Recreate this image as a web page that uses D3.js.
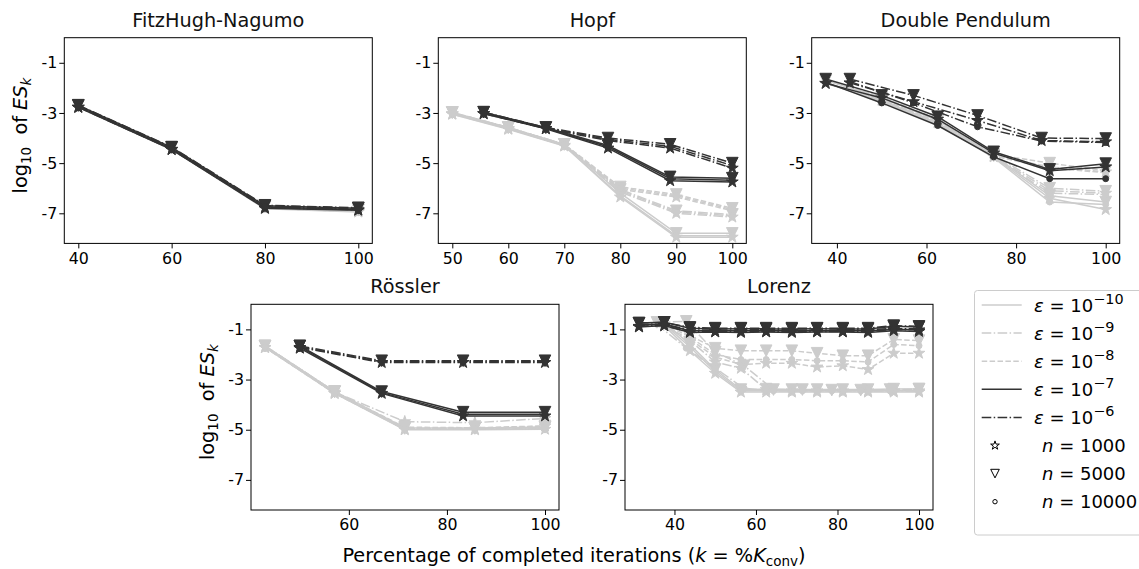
<!DOCTYPE html>
<html><head><meta charset="utf-8">
<script src="https://cdn.jsdelivr.net/npm/d3@7"></script>
<style>
body{margin:0;background:#fff}
svg{display:block;font-family:"DejaVu Sans",sans-serif}
</style>
</head><body>
<svg id="c" width="1139" height="569"></svg>
<script>
// ---------------- data ----------------
const panelTitles = ["FitzHugh-Nagumo", "Hopf", "Double Pendulum", "Rössler", "Lorenz"];
const epsExponents = ["−10", "−9", "−8", "−7", "−6"];
const nValues = ["1000", "5000", "10000"];
const yTickValues = [-1, -3, -5, -7];
const yTickLabels = ["-1", "-3", "-5", "-7"];
const fhnTicks = [40, 60, 80, 100];
const hopfTicks = [50, 60, 70, 80, 90, 100];
const dpTicks = [40, 60, 80, 100];
const rosTicks = [60, 80, 100];
const lorTicks = [40, 60, 80, 100];

// x grids (percentage of completed iterations)
const fhnK4 = [40, 60, 80, 100];
const hopfK10 = [50, 60, 70, 80, 90, 100];
const hopfK9 = [55.6, 66.7, 77.8, 88.9, 100];
const dpK8 = [37.5, 50, 62.5, 75, 87.5, 100];
const dpK7 = [42.9, 57.1, 71.4, 85.7, 100];
const rosK7 = [42.9, 57.1, 71.4, 85.7, 100];
const rosK6 = [50, 66.7, 83.3, 100];
const lorK16 = [31.3, 37.5, 43.8, 50, 56.3, 62.5, 68.8, 75, 81.3, 87.5, 93.8, 100];
const lorK14 = [35.7, 42.9, 50, 57.1, 64.3, 71.4, 78.6, 85.7, 92.9, 100];

// series order: eps 1e-10, 1e-9, 1e-8, 1e-7, 1e-6 ; each with n = 1000, 5000, 10000
const fhnGrids = [fhnK4, fhnK4, fhnK4, fhnK4, fhnK4, fhnK4, fhnK4, fhnK4, fhnK4, fhnK4, fhnK4, fhnK4, fhnK4, fhnK4, fhnK4];
const fhnValues = [
  [-2.76, -4.45, -6.82, -6.95], [-2.72, -4.40, -6.75, -6.88], [-2.74, -4.43, -6.78, -6.90],
  [-2.75, -4.44, -6.80, -6.92], [-2.72, -4.40, -6.74, -6.86], [-2.74, -4.42, -6.77, -6.90],
  [-2.76, -4.45, -6.80, -6.93], [-2.71, -4.39, -6.73, -6.85], [-2.74, -4.43, -6.78, -6.90],
  [-2.78, -4.46, -6.80, -6.88], [-2.70, -4.37, -6.70, -6.80], [-2.74, -4.42, -6.75, -6.85],
  [-2.77, -4.45, -6.78, -6.86], [-2.69, -4.36, -6.68, -6.78], [-2.73, -4.41, -6.74, -6.83]
];

const hopfGrids = [hopfK10, hopfK10, hopfK10, hopfK10, hopfK10, hopfK10, hopfK10, hopfK10, hopfK10, hopfK9, hopfK9, hopfK9, hopfK9, hopfK9, hopfK9];
const hopfValues = [
  [-3.05, -3.65, -4.32, -6.35, -7.95, -7.95], [-2.98, -3.58, -4.25, -6.20, -7.80, -7.80], [-3.02, -3.62, -4.30, -6.30, -7.90, -7.90],
  [-3.04, -3.63, -4.30, -6.15, -7.00, -7.15], [-2.98, -3.58, -4.25, -6.05, -6.90, -7.05], [-3.02, -3.61, -4.28, -6.10, -6.95, -7.10],
  [-3.03, -3.62, -4.29, -6.05, -6.35, -6.90], [-2.98, -3.58, -4.25, -5.95, -6.25, -6.80], [-3.01, -3.60, -4.27, -6.00, -6.30, -6.85],
  [-3.03, -3.63, -4.40, -5.70, -5.75], [-2.97, -3.58, -4.30, -5.55, -5.60], [-3.00, -3.61, -4.35, -5.62, -5.68],
  [-3.02, -3.62, -4.10, -4.40, -5.20], [-2.97, -3.58, -4.00, -4.25, -5.00], [-3.00, -3.60, -4.05, -4.33, -5.10]
];

const dpGrids = [dpK8, dpK8, dpK8, dpK8, dpK8, dpK8, dpK8, dpK8, dpK8, dpK8, dpK8, dpK8, dpK7, dpK7, dpK7];
const dpValues = [
  [-1.82, -2.50, -3.40, -4.75, -6.40, -6.85], [-1.70, -2.40, -3.30, -4.70, -6.30, -6.55], [-1.78, -2.55, -3.45, -4.78, -6.55, -6.65],
  [-1.82, -2.48, -3.38, -4.72, -6.10, -6.20], [-1.70, -2.38, -3.28, -4.68, -6.00, -6.12], [-1.78, -2.52, -3.42, -4.75, -6.20, -6.25],
  [-1.82, -2.46, -3.35, -4.70, -5.15, -5.35], [-1.70, -2.36, -3.25, -4.65, -5.00, -5.30], [-1.78, -2.50, -3.40, -4.72, -5.20, -5.38],
  [-1.82, -2.40, -3.25, -4.60, -5.30, -5.15], [-1.65, -2.30, -3.15, -4.55, -5.25, -5.02], [-1.78, -2.60, -3.50, -4.75, -5.62, -5.62],
  [-1.80, -2.55, -3.30, -4.10, -4.15], [-1.65, -2.30, -3.10, -4.00, -4.02], [-1.75, -2.60, -3.55, -4.12, -4.18]
];

const rosGrids = [rosK7, rosK7, rosK7, rosK7, rosK7, rosK7, rosK7, rosK7, rosK7, rosK6, rosK6, rosK6, rosK6, rosK6, rosK6];
const rosValues = [
  [-1.72, -3.55, -5.00, -5.00, -4.98], [-1.66, -3.48, -4.92, -4.93, -4.90], [-1.70, -3.53, -4.98, -4.98, -4.96],
  [-1.72, -3.50, -4.68, -4.72, -4.55], [-1.66, -3.48, -4.95, -4.95, -4.90], [-1.70, -3.52, -4.97, -4.97, -4.95],
  [-1.72, -3.55, -4.98, -4.98, -4.85], [-1.66, -3.48, -4.90, -4.92, -4.85], [-1.70, -3.52, -4.95, -4.95, -4.90],
  [-1.75, -3.55, -4.45, -4.45], [-1.66, -3.48, -4.30, -4.30], [-1.70, -3.52, -4.38, -4.38],
  [-1.72, -2.32, -2.32, -2.32], [-1.66, -2.25, -2.25, -2.25], [-1.70, -2.29, -2.29, -2.29]
];

const lorGrids = [lorK16, lorK16, lorK16, lorK16, lorK14, lorK14, lorK16, lorK16, lorK16, lorK16, lorK16, lorK16, lorK16, lorK16, lorK16];
const lorValues = [
  [-0.88, -0.85, -1.85, -2.75, -3.50, -3.50, -3.50, -3.50, -3.50, -3.50, -3.50, -3.50],
  [-0.75, -0.72, -1.60, -2.60, -3.40, -3.38, -3.40, -3.40, -3.40, -3.40, -3.38, -3.38],
  [-0.82, -0.80, -1.70, -2.68, -3.45, -3.45, -3.45, -3.45, -3.45, -3.45, -3.45, -3.45],
  [-0.88, -0.85, -1.45, -2.30, -2.55, -3.40, -3.45, -3.45, -3.45, -3.45, -3.45, -3.45],
  [-0.72, -0.68, -1.90, -2.45, -3.40, -3.40, -3.42, -3.42, -3.40, -3.38],
  [-0.80, -1.75, -2.55, -3.35, -3.45, -3.45, -3.45, -3.45, -3.45, -3.45],
  [-0.88, -0.85, -1.40, -2.10, -2.40, -2.35, -2.35, -2.50, -2.45, -2.60, -1.95, -1.95],
  [-0.75, -0.72, -1.25, -1.75, -1.85, -1.85, -1.85, -1.95, -2.05, -2.05, -1.40, -1.45],
  [-0.82, -0.80, -1.30, -2.00, -2.20, -2.20, -2.20, -2.25, -2.25, -2.30, -1.60, -1.65],
  [-0.90, -0.85, -1.12, -1.10, -1.12, -1.10, -1.12, -1.10, -1.10, -1.12, -1.05, -1.08],
  [-0.75, -0.72, -0.95, -0.98, -0.97, -0.98, -0.98, -0.97, -0.98, -0.98, -0.88, -0.90],
  [-0.82, -0.80, -1.05, -1.05, -1.05, -1.05, -1.05, -1.05, -1.05, -1.05, -1.00, -1.00],
  [-0.88, -0.85, -1.10, -1.08, -1.08, -1.08, -1.08, -1.08, -1.08, -1.08, -1.00, -1.02],
  [-0.75, -0.72, -0.92, -0.95, -0.95, -0.95, -0.95, -0.95, -0.95, -0.95, -0.85, -0.88],
  [-0.82, -0.80, -1.02, -1.02, -1.02, -1.00, -1.02, -1.02, -1.02, -1.00, -0.97, -0.97]
];

// ---------------- drawing ----------------
const svg = d3.select("#c");
const LIGHT = "#cccccc", DARK = "#333333";
const LW = 1.5;
const DASHDOT = "9.6,2.4,1.5,2.4", DASHED = "5.5,2.4";
const epsColor = [LIGHT, LIGHT, LIGHT, DARK, DARK];
const epsDash = [null, DASHDOT, DASHED, null, DASHDOT];

const W = 308, H = 205.7;
const panels = [
  {title: panelTitles[0], left: 64.3, top: 37.7, grids: fhnGrids, vals: fhnValues, ticks: fhnTicks, ylab: true},
  {title: panelTitles[1], left: 438.3, top: 37.7, grids: hopfGrids, vals: hopfValues, ticks: hopfTicks, ylab: false},
  {title: panelTitles[2], left: 811.7, top: 37.7, grids: dpGrids, vals: dpValues, ticks: dpTicks, ylab: false},
  {title: panelTitles[3], left: 251, top: 304.3, grids: rosGrids, vals: rosValues, ticks: rosTicks, ylab: true},
  {title: panelTitles[4], left: 625, top: 304.3, grids: lorGrids, vals: lorValues, ticks: lorTicks, ylab: false}
];

function starPath(R) {
  const r = R * 0.381966, pts = [];
  for (let i = 0; i < 10; i++) {
    const a = -Math.PI / 2 + i * Math.PI / 5;
    const rr = i % 2 === 0 ? R : r;
    pts.push([rr * Math.cos(a), rr * Math.sin(a)]);
  }
  return "M" + pts.map(p => p[0].toFixed(2) + "," + p[1].toFixed(2)).join("L") + "Z";
}
function triDownPath(R) {
  return `M0,${R}L${-R},${-R}L${R},${-R}Z`;
}
function circlePath(R) {
  return `M${R},0A${R},${R} 0 1,1 ${-R},0A${R},${R} 0 1,1 ${R},0Z`;
}
const markerPaths = [starPath(6.2), triDownPath(5.8), circlePath(3.0)];

const yScale0 = d3.scaleLinear().domain([0, -8.2]);

panels.forEach(p => {
  const allX = p.grids.flat();
  const ext = d3.extent(allX);
  const pad = (ext[1] - ext[0]) * 0.05;
  const x = d3.scaleLinear().domain([ext[0] - pad, ext[1] + pad]).range([p.left, p.left + W]);
  const y = yScale0.copy().range([p.top, p.top + H]);
  const g = svg.append("g");

  [0, 1, 2, 3, 4].forEach(e => {
    for (let j = 0; j < 3; j++) {
      const idx = e * 3 + j;
      const xs = p.grids[idx], vs = p.vals[idx];
      const pts = xs.map((xv, i) => [xv, vs[i]]);
      const line = d3.line().x(d => x(d[0])).y(d => y(d[1]));
      g.append("path").attr("d", line(pts)).attr("fill", "none")
        .attr("stroke", epsColor[e]).attr("stroke-width", LW)
        .attr("stroke-dasharray", epsDash[e]);
      g.selectAll(null).data(pts).enter().append("path")
        .attr("d", markerPaths[j])
        .attr("transform", d => `translate(${x(d[0])},${y(d[1])})`)
        .attr("fill", epsColor[e]).attr("stroke", epsColor[e]).attr("stroke-width", 1);
    }
  });

  g.append("rect").attr("x", p.left).attr("y", p.top).attr("width", W).attr("height", H)
    .attr("fill", "none").attr("stroke", "#000").attr("stroke-width", 1);

  const xa = g.append("g").attr("transform", `translate(0,${p.top + H})`)
    .call(d3.axisBottom(x).tickValues(p.ticks).tickSize(5).tickPadding(4).tickFormat(d3.format("d")));
  xa.select(".domain").remove();
  xa.selectAll("text").attr("font-size", 15.8).attr("font-family", "DejaVu Sans").attr("fill", "#000");
  xa.selectAll("line").attr("stroke", "#000");

  const ya = g.append("g").attr("transform", `translate(${p.left},0)`)
    .call(d3.axisLeft(y).tickValues(yTickValues).tickSize(5).tickPadding(2).tickFormat((d, i) => yTickLabels[i]));
  ya.select(".domain").remove();
  ya.selectAll("text").attr("font-size", 15.8).attr("font-family", "DejaVu Sans").attr("fill", "#000");
  ya.selectAll("line").attr("stroke", "#000");

  g.append("text").attr("x", p.left + W / 2).attr("y", p.top - 11)
    .attr("text-anchor", "middle").attr("font-size", 19.3).attr("fill", "#111").text(p.title);

  if (p.ylab) {
    const t = g.append("text")
      .attr("transform", `translate(${p.left - 37},${p.top + H / 2 - 5}) rotate(-90)`)
      .attr("text-anchor", "middle").attr("font-size", 19.3);
    t.append("tspan").text("log");
    t.append("tspan").attr("font-size", 13.5).attr("dy", 4).text("10");
    t.append("tspan").attr("dy", -4).attr("xml:space", "preserve").text("\u00a0\u00a0of ");
    t.append("tspan").attr("font-style", "italic").text("ES");
    t.append("tspan").attr("font-style", "italic").attr("font-size", 13.5).attr("dy", 4).text("k");
  }
});

const xl = svg.append("text").attr("x", 574).attr("y", 562).attr("text-anchor", "middle").attr("font-size", 19.3);
xl.append("tspan").text("Percentage of completed iterations (");
xl.append("tspan").attr("font-style", "italic").text("k");
xl.append("tspan").text(" = %");
xl.append("tspan").attr("font-style", "italic").text("K");
xl.append("tspan").attr("font-size", 13.5).attr("dy", 4).text("conv");
xl.append("tspan").attr("dy", -4).text(")");

// legend
const lg = svg.append("g");
lg.append("rect").attr("x", 974.5).attr("y", 290.5).attr("width", 200).attr("height", 244.5)
  .attr("rx", 3).attr("fill", "#fff").attr("fill-opacity", 0.8).attr("stroke", "#cccccc").attr("stroke-width", 1);
const rowY = i => 305 + i * 28.1;
const LFS = 18;
epsExponents.forEach((ex, e) => {
  const cy = rowY(e);
  lg.append("line").attr("x1", 981.7).attr("x2", 1021.7).attr("y1", cy).attr("y2", cy)
    .attr("stroke", epsColor[e]).attr("stroke-width", LW).attr("stroke-dasharray", epsDash[e]);
  const t = lg.append("text").attr("x", 1034).attr("y", cy + 6.5).attr("font-size", LFS);
  t.append("tspan").attr("font-style", "italic").text("ε");
  t.append("tspan").text(" = 10");
  t.append("tspan").attr("font-size", LFS * 0.8).attr("dy", -8).text(ex);
});
const legMarkers = [starPath(4.6), triDownPath(4.3), circlePath(2.2)];
nValues.forEach((nv, j) => {
  const cy = rowY(5 + j);
  lg.append("path").attr("d", legMarkers[j]).attr("transform", `translate(995,${cy})`)
    .attr("fill", "none").attr("stroke", "#000").attr("stroke-width", 1);
  const t = lg.append("text").attr("x", 1042).attr("y", cy + 6.5).attr("font-size", LFS);
  t.append("tspan").attr("font-style", "italic").text("n");
  t.append("tspan").text(" = " + nv);
});
</script>
</body></html>
